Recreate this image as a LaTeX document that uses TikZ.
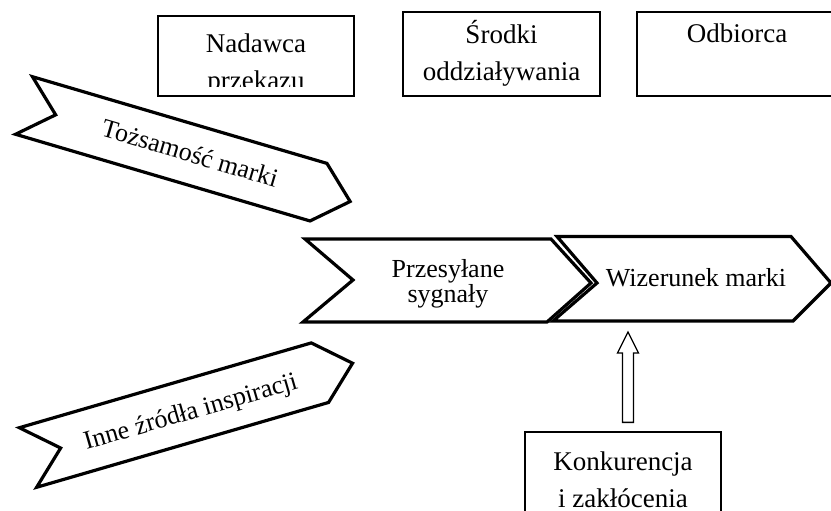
\documentclass[tikz,border=0pt]{standalone}
\usepackage{fontspec}
\setmainfont{Liberation Serif}
\usetikzlibrary{calc}
\tikzset{
  box/.style={draw,line width=1.3pt,minimum width=196pt,minimum height=80pt,inner sep=0pt},
  txt/.style={align=center,inner sep=0pt,font=\fontsize{27}{37}\selectfont},
  bantxt/.style={align=center,inner sep=0pt,font=\fontsize{26}{25}\selectfont},
  banner/.style={draw,line width=3.2pt,line join=miter,fill=white},
  hollow/.style={draw,line width=1.3pt,line join=miter,fill=white}
}
\begin{document}
\begin{tikzpicture}[x=1pt,y=-1pt]
  \clip (0,0) rectangle (831,511);
  % top boxes
  \node[box] (nad) at (256,56) {};
  \node[box,minimum width=197pt,minimum height=84pt] (srd) at (501.5,54) {};
  \node[box,minimum width=197pt,minimum height=84pt] (odb) at (735.5,54) {};
  \begin{scope}
    \clip (nad.north west) rectangle ($(nad.south east)+(0,-10)$);
    \node[txt] (nadt) at (256,64.5) {Nadawca\\przekazu};
  \end{scope}
  \node[txt] (srdt) at (501.5,53) {Środki\\oddziaływania};
  \node[txt,anchor=base] (odbt) at (737,43) {Odbiorca};
  % banners
  \begin{scope}[shift={(24,105.5)},rotate=-16.4]
    \draw[banner] (0,-30) -- (307,-30) -- (340,0) -- (307,30) -- (0,30) -- (33,0) -- cycle;
  \end{scope}
  \begin{scope}[shift={(28,457.5)},rotate=16.2]
    \draw[banner] (0,-31) -- (304,-31) -- (338,0) -- (304,31) -- (0,31) -- (34,0) -- cycle;
  \end{scope}
  \draw[banner] (305,239) -- (551,239) -- (591,283) -- (547,322) -- (303,322) -- (353,280) -- cycle;
  \draw[banner] (557,236.5) -- (791,236.5) -- (831,283) -- (793,321) -- (553,321) -- (597,283) -- cycle;
  \node[bantxt,rotate=-16.4] (tozs) at (190,153) {Tożsamość marki};
  \node[bantxt,rotate=16.2] (inne) at (191,413) {Inne źródła inspiracji};
  \node[bantxt] (przes) at (448,283.5) {Przesyłane\\sygnały};
  \node[bantxt,anchor=base] (wiz) at (696,286) {Wizerunek marki};
  % bottom box and arrow
  \node[box,minimum height=90pt] (konk) at (623,477) {};
  \node[txt] (konkt) at (623,480) {Konkurencja\\i zakłócenia};
  \coordinate (wizb) at (628,332);
  \coordinate (konka) at ($(konk.north)+(5,-9)$);
  \draw[hollow] ([xshift=-5.5pt]konka) -- ([xshift=-5.5pt,yshift=-21pt]wizb)
    -- ([xshift=-10.5pt,yshift=-21pt]wizb) -- (wizb)
    -- ([xshift=10.5pt,yshift=-21pt]wizb) -- ([xshift=5.5pt,yshift=-21pt]wizb)
    -- ([xshift=5.5pt]konka) -- cycle;
\end{tikzpicture}
\end{document}
